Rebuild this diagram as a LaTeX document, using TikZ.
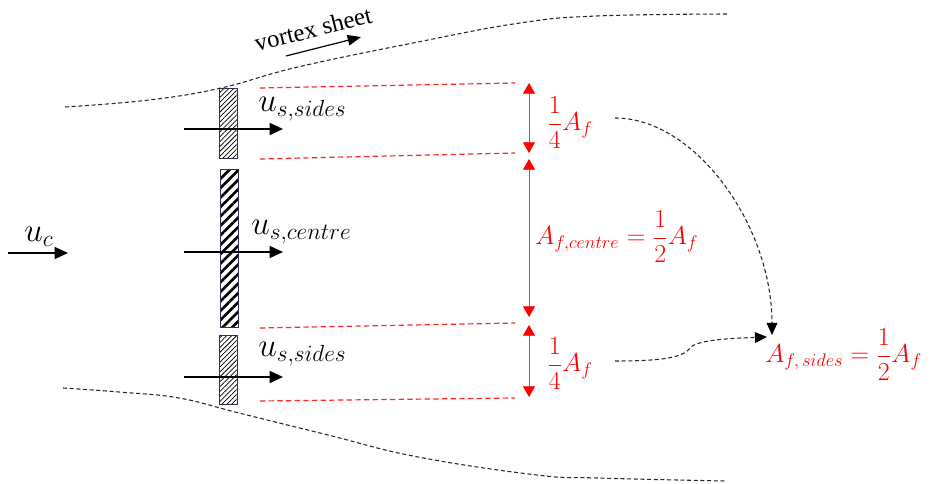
\RequirePackage{fix-cm}
\documentclass[tikz,border=0pt]{standalone}
\usepackage{amsmath}
\usepackage{fontspec}
\setmainfont{Liberation Serif}
\usetikzlibrary{arrows.meta,patterns.meta}
\definecolor{navy}{HTML}{2B3350}
\definecolor{myred}{HTML}{FF0000}
\begin{document}
\begin{tikzpicture}[x=0.75pt,y=-0.75pt,
  flow/.style={line width=0.9pt,-{Triangle[length=10pt,width=9pt]}},
  sideplate/.style={draw=navy,line width=0.8pt,inner sep=0pt,minimum width=13.5pt,anchor=north west,
     pattern={Lines[angle=45,distance=2.6pt,line width=0.55pt]},pattern color=black},
  centreplate/.style={draw=navy,line width=0.8pt,inner sep=0pt,minimum width=13.5pt,anchor=north west,
     pattern={Lines[angle=45,distance=5pt,line width=2pt]},pattern color=black},
  reddash/.style={draw=myred!85,line width=0.9pt,dash pattern=on 4pt off 2.5pt},
  dimarrow/.style={draw=myred!80,line width=0.6pt,
     {Triangle[length=8pt,width=9pt,color=myred]}-{Triangle[length=8pt,width=9pt,color=myred]}},
  sheet/.style={draw=black!85,line width=0.8pt,dash pattern=on 3pt off 2pt},
  curvearrow/.style={draw=black!85,line width=0.8pt,dash pattern=on 3pt off 2pt,
     -{Triangle[length=9pt,width=8pt,color=black]}},
  ulabel/.style={anchor=base west,inner sep=0pt,font=\fontsize{25}{30}\selectfont},
  redlabel/.style={anchor=base west,inner sep=0pt,text=myred,font=\fontsize{19.5}{23}\selectfont}
]
\useasboundingbox (0,0) rectangle (931,484);

% vortex sheets
\draw[sheet] plot[smooth,tension=0.7] coordinates {(65,107) (149,100) (221,88) (298,67) (418,42) (520,23) (597,16) (728,14)};
\draw[sheet] plot[smooth,tension=0.7] coordinates {(63,388) (119,392) (179,398) (239,413) (328,435) (418,457) (537,475) (597,478) (725,481)};
\node[rotate=14,font=\fontsize{18.5}{22}\selectfont,inner sep=0pt] (vs) at (313,29) {vortex sheet};
\coordinate (vsa) at (286,56);
\coordinate (vsb) at (361,37);
\draw[line width=0.9pt,-{Triangle[length=10pt,width=8pt]}] (vsa) -- (vsb);

% plates
\node[sideplate,minimum height=52.5pt] (ptop) at (219,88) {};
\node[centreplate,minimum height=118.5pt] (pcen) at (219,168) {};
\node[sideplate,minimum height=51.75pt] (pbot) at (219,335) {};

% upstream flow
\coordinate (uc1) at (8,253);
\coordinate (uc2) at (68,253);
\draw[flow] (uc1) -- (uc2);
\node[ulabel] (uc) at (24,242) {$u_c$};

% flows through plates
\coordinate (f1a) at (184,129); \coordinate (f1b) at (283,129);
\coordinate (f2a) at (184,252); \coordinate (f2b) at (283,252);
\coordinate (f3a) at (184,377); \coordinate (f3b) at (283,377);
\draw[flow] (f1a) -- (f1b);
\draw[flow] (f2a) -- (f2b);
\draw[flow] (f3a) -- (f3b);
\node[ulabel] (us1) at (258,112) {$u_{s,sides}$};
\node[ulabel] (us2) at (251,235) {$u_{s,centre}$};
\node[ulabel] (us3) at (258,357) {$u_{s,sides}$};

% red dashed extent lines
\coordinate (r1a) at (260,88);  \coordinate (r1b) at (515,83);
\coordinate (r2a) at (260,159); \coordinate (r2b) at (515,153);
\coordinate (r3a) at (260,328); \coordinate (r3b) at (515,323);
\coordinate (r4a) at (260,401); \coordinate (r4b) at (515,398);
\draw[reddash] (r1a) -- (r1b);
\draw[reddash] (r2a) -- (r2b);
\draw[reddash] (r3a) -- (r3b);
\draw[reddash] (r4a) -- (r4b);

% dimension arrows
\coordinate (d1a) at (529,83);  \coordinate (d1b) at (529,153);
\coordinate (d2a) at (529,159); \coordinate (d2b) at (529,317);
\coordinate (d3a) at (529,325); \coordinate (d3b) at (529,397);
\draw[dimarrow] (d1a) -- (d1b);
\draw[dimarrow] (d2a) -- (d2b);
\draw[dimarrow] (d3a) -- (d3b);

% red labels
\node[redlabel] (q1) at (547,131) {$\dfrac{1}{4}A_f$};
\node[redlabel] (qc) at (535,245) {$A_{f,centre}=\dfrac{1}{2}A_f$};
\node[redlabel] (q3) at (547,372) {$\dfrac{1}{4}A_f$};
\node[redlabel] (qs) at (765,363) {$A_{f,\,sides}=\dfrac{1}{2}A_f$};

% curved dashed arrows
\coordinate (c1a) at (615,118);
\coordinate (c1b) at (772,335);
\coordinate (c2a) at (615,361);
\coordinate (c2m) at (690,348);
\coordinate (c2b) at (767,337);
\draw[curvearrow] (c1a) .. controls (695,118) and (772,225) .. (c1b);
\draw[curvearrow] (c2a) .. controls (660,361) and (683,358) .. (c2m) .. controls (697,339) and (740,338) .. (c2b);
\end{tikzpicture}
\end{document}
